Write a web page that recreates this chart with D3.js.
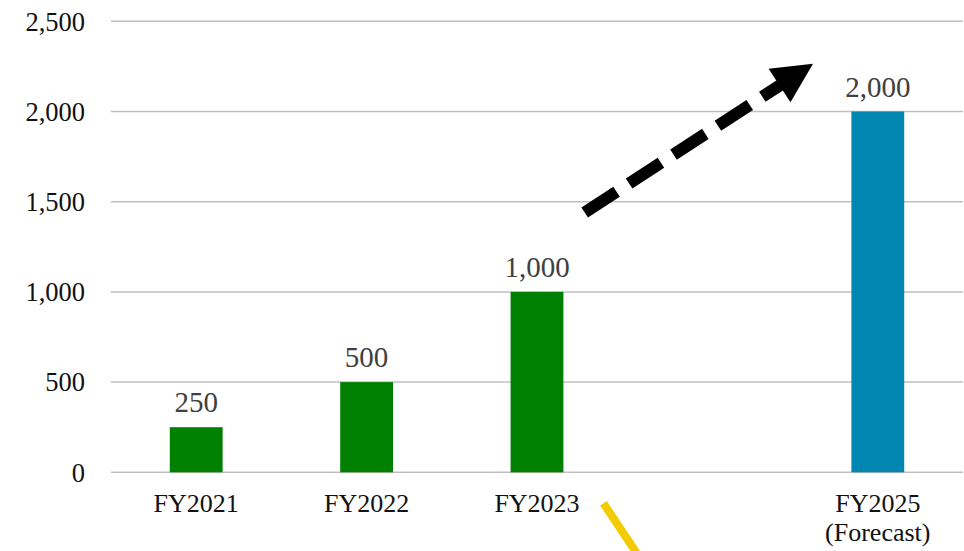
<!DOCTYPE html>
<html><head><meta charset="utf-8">
<script src="https://cdn.jsdelivr.net/npm/d3@7"></script>
<style>html,body{margin:0;padding:0;background:#fff;}svg{display:block;}</style>
</head><body>
<svg id="chart" width="964" height="551"></svg>
<script>
const categories = ["FY2021", "FY2022", "FY2023", "FY2024", "FY2025"];
const categoryLabels = [["FY2021"], ["FY2022"], ["FY2023"], [], ["FY2025", "(Forecast)"]];
const values = [250, 500, 1000, null, 2000];
const valueLabels = ["250", "500", "1,000", "", "2,000"];
const barColors = ["#008000", "#008000", "#008000", null, "#0086b1"];
const yTicks = [0, 500, 1000, 1500, 2000, 2500];
const yTickLabels = ["0", "500", "1,000", "1,500", "2,000", "2,500"];
// arrow annotation: [category index position, value]
const arrowStart = [2.28, 1440];
const arrowEnd = [3.62, 2265];

const svg = d3.select("#chart");
const mLeft = 111, mRight = 963, mTop = 21.3, mBottom = 472.3;
const serif = "'Liberation Serif','Times New Roman',Times,serif";

const x = d3.scaleBand().domain(categories).range([mLeft, mRight]).paddingInner(0.69).paddingOuter(0.345);
const y = d3.scaleLinear().domain([0, 2500]).range([mBottom, mTop]);
const step = x.step();
const c0 = x(categories[0]) + x.bandwidth() / 2;
const xi = d3.scaleLinear().domain([0, 1]).range([c0, c0 + step]);

// gridlines
svg.append("g").selectAll("line").data(yTicks).join("line")
  .attr("x1", mLeft).attr("x2", mRight)
  .attr("y1", d => y(d)).attr("y2", d => y(d))
  .attr("stroke", "#bfbfbf").attr("stroke-width", 1.5);

// y axis labels
const yAxis = d3.axisLeft(y).tickValues(yTicks).tickSize(0).tickPadding(26)
  .tickFormat((d, i) => yTickLabels[i]);
const ya = svg.append("g").attr("transform", `translate(${mLeft},0)`).call(yAxis)
  .attr("font-family", serif);
ya.select(".domain").remove();
ya.selectAll("text").style("font-family", serif)
  .attr("font-size", 26.5).attr("fill", "#111").attr("dy", "0.33em");

// bars
const barData = categories.map((c, i) => ({c, v: values[i], color: barColors[i], label: valueLabels[i]})).filter(d => d.v != null);
svg.append("g").selectAll("rect").data(barData).join("rect")
  .attr("x", d => x(d.c)).attr("width", x.bandwidth())
  .attr("y", d => y(d.v)).attr("height", d => y(0) - y(d.v))
  .attr("fill", d => d.color);

// value labels
svg.append("g").selectAll("text").data(barData).join("text")
  .attr("x", d => x(d.c) + x.bandwidth() / 2)
  .attr("y", d => y(d.v) - 15)
  .attr("text-anchor", "middle")
  .style("font-family", serif)
  .attr("font-size", 29).attr("fill", "#404040")
  .text(d => d.label);

// category labels
const cg = svg.append("g").selectAll("text").data(categories).join("text")
  .attr("x", d => x(d) + x.bandwidth() / 2)
  .attr("y", mBottom + 40)
  .attr("text-anchor", "middle")
  .style("font-family", serif)
  .attr("font-size", 26).attr("fill", "#111");
cg.each(function(d, i) {
  const t = d3.select(this);
  categoryLabels[i].forEach((line, j) => {
    t.append("tspan").attr("x", x(d) + x.bandwidth() / 2).attr("dy", j === 0 ? 0 : 29).text(line);
  });
});

// dashed arrow
const x0 = xi(arrowStart[0]), y0 = y(arrowStart[1]);
const x1 = xi(arrowEnd[0]), y1 = y(arrowEnd[1]);
const ang = Math.atan2(y1 - y0, x1 - x0);
const headLen = 40, headW = 40;
const bx = x1 - headLen * Math.cos(ang), by = y1 - headLen * Math.sin(ang);
svg.append("line")
  .attr("x1", x0).attr("y1", y0).attr("x2", bx + 2 * Math.cos(ang)).attr("y2", by + 2 * Math.sin(ang))
  .attr("stroke", "#000").attr("stroke-width", 12)
  .attr("stroke-dasharray", "38 15");
const px = -Math.sin(ang), py = Math.cos(ang);
svg.append("path")
  .attr("d", `M${x1},${y1} L${bx + px * headW / 2},${by + py * headW / 2} L${bx - px * headW / 2},${by - py * headW / 2} Z`)
  .attr("fill", "#000");

// yellow stroke below axis
const yx = xi(2.39);
svg.append("line")
  .attr("x1", yx).attr("y1", mBottom + 31)
  .attr("x2", yx + 40).attr("y2", mBottom + 31 + 60)
  .attr("stroke", "#f2cb00").attr("stroke-width", 8);
</script>
</body></html>
